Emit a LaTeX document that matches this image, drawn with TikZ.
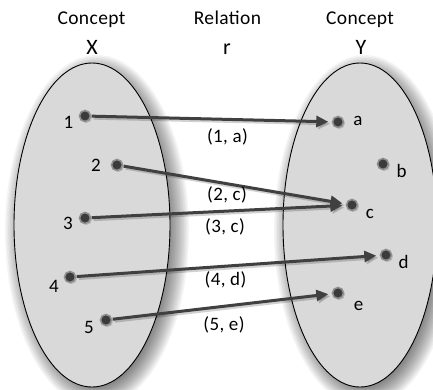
\documentclass[tikz,border=0pt]{standalone}
\usepackage{fontspec}
\setmainfont{Carlito}[LetterSpace=2]
\usetikzlibrary{arrows.meta,shadows}
\definecolor{ellfill}{HTML}{D9D9D9}
\definecolor{dotcore}{HTML}{3B3B3B}
\definecolor{dothalo}{HTML}{8F8F8F}
\definecolor{arrcol}{HTML}{404040}
\begin{document}
\begin{tikzpicture}[x=1pt,y=-1pt,
  lbl/.style={font=\fontsize{19}{22}\selectfont, inner sep=0pt, anchor=base},
  ttl/.style={font=\fontsize{19.5}{22}\selectfont, inner sep=0pt, anchor=base},
  big/.style={font=\fontsize{22}{25}\selectfont, inner sep=0pt, anchor=base},
  pair/.style={font=\fontsize{19}{22}\selectfont, inner sep=0pt, anchor=center},
  dotnode/.style={circle, minimum size=11pt, inner sep=0pt, fill=dotcore, draw=dothalo, line width=1.6pt,
    drop shadow={shadow xshift=1.5pt, shadow yshift=-1.5pt, opacity=.35}},
  arr/.style={draw=arrcol, line width=3pt, -{Triangle[length=12pt,width=11pt]}, shorten >=3pt},
  arrsh/.style={draw=black, opacity=.18, line width=3pt, -{Triangle[length=12pt,width=11pt]}, shorten >=3pt},
  setshape/.style={fill=ellfill, draw=black, line width=0.9pt}]
\useasboundingbox (0,0) rectangle (433,389);
\fill[white] (0,0) rectangle (433,389);
% soft shadows behind the sets
\begin{scope}
\clip (0,0) rectangle (433,389);
\foreach \i in {0,...,13}{
  \fill[black, opacity=0.045] (97,231) ellipse ({78pt+14pt-\i*1.6pt} and {162pt+14pt-\i*1.6pt});
  \fill[black, opacity=0.045] (365,231) ellipse ({77pt+14pt-\i*1.6pt} and {162pt+14pt-\i*1.6pt});
}
\end{scope}
% sets
\draw[setshape] (92,225) ellipse (78pt and 162pt);
\draw[setshape] (360,225) ellipse (77pt and 162pt);
% titles
\node[ttl] (tx1) at (91.5,24) {Concept};
\node[big] (tx) at (92,54) {X};
\node[ttl] (tr1) at (227.5,24) {Relation};
\node[big] (tr) at (227,54) {r};
\node[ttl] (ty1) at (360,24) {Concept};
\node[big] (ty) at (361,54) {Y};
% element positions
\coordinate (c1) at (85,116);
\coordinate (c2) at (117,165);
\coordinate (c3) at (85,218);
\coordinate (c4) at (70,277);
\coordinate (c5) at (106,320);
\coordinate (ca) at (338,122);
\coordinate (cb) at (383,164);
\coordinate (cc) at (352,205);
\coordinate (cd) at (386,255);
\coordinate (ce) at (338,293);
% invisible nodes for connector ends
\foreach \n in {1,2,3,4,5,a,b,c,d,e}{
  \node[circle, minimum size=13pt, inner sep=0pt] (p\n) at (c\n) {};
}
% arrow shadows
\begin{scope}[transform canvas={shift={(2,2)}}]
\draw[arrsh] (p1) -- (pa);
\draw[arrsh] (p2) -- (pc);
\draw[arrsh] (p3) -- (pc);
\draw[arrsh] (p4) -- (pd);
\draw[arrsh] (p5) -- (pe);
\end{scope}
% arrows
\draw[arr] (p1) -- (pa);
\draw[arr] (p2) -- (pc);
\draw[arr] (p3) -- (pc);
\draw[arr] (p4) -- (pd);
\draw[arr] (p5) -- (pe);
% dots
\foreach \n in {1,2,3,4,5,a,b,c,d,e}{
  \node[dotnode] (d\n) at (c\n) {};
}
% element labels
\node[lbl] (l1) at (68.5,128) {1};
\node[lbl] (l2) at (96,171) {2};
\node[lbl] (l3) at (68,229) {3};
\node[lbl] (l4) at (54,292) {4};
\node[lbl] (l5) at (89,333) {5};
\node[lbl] (la) at (358,125) {a};
\node[lbl] (lb) at (401.5,177) {b};
\node[lbl] (lc) at (370,218) {c};
\node[lbl] (ld) at (403.5,268) {d};
\node[lbl] (le) at (358.5,310) {e};
% pair labels
\node[pair] (r1) at (227.5,136.5) {(1, a)};
\node[pair] (r2) at (227,195) {(2, c)};
\node[pair] (r3) at (225,226.5) {(3, c)};
\node[pair] (r4) at (225.5,280) {(4, d)};
\node[pair] (r5) at (224,325) {(5, e)};
\end{tikzpicture}
\end{document}
